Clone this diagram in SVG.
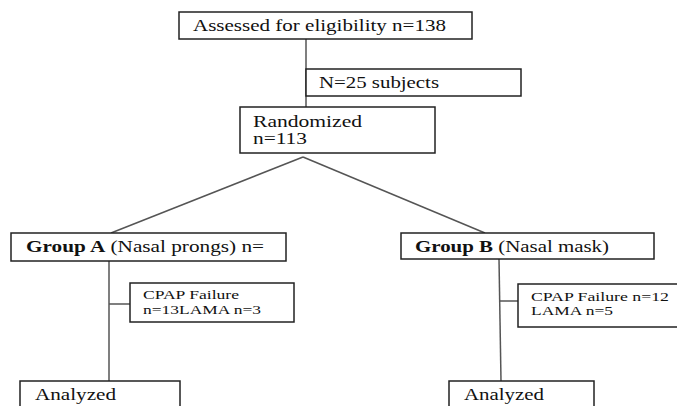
<svg xmlns="http://www.w3.org/2000/svg" width="677" height="406" viewBox="0 0 677 406">
<style>
.box{fill:#fff;stroke:#222;stroke-width:1.5}
.ln{stroke:#555;stroke-width:1.5;fill:none}
.t{font-size:16px}
.s{font-size:13.5px}
.b{font-weight:bold}
</style>
<rect width="677" height="406" fill="#fff"/>
<g id="connectors">
<line class="ln" x1="306" y1="39" x2="306" y2="115"/>
<line class="ln" x1="303" y1="157" x2="111" y2="233"/>
<line class="ln" x1="303" y1="157" x2="485" y2="233"/>
<line class="ln" x1="109" y1="261" x2="109" y2="382"/>
<line class="ln" x1="109" y1="304" x2="130" y2="304"/>
<line class="ln" x1="499" y1="259" x2="501" y2="381"/>
<line class="ln" x1="500" y1="301" x2="518" y2="301"/>
</g>
<g font-family="'Liberation Serif', 'Times New Roman', Tinos, serif" fill="#111">
<g id="assessed">
<rect class="box" x="179" y="12" width="293" height="27"/>
<text class="t" x="193" y="31" textLength="253" lengthAdjust="spacingAndGlyphs">Assessed for eligibility  n=138</text>
</g>
<g id="excluded">
<rect class="box" x="306" y="69" width="215" height="27"/>
<text class="t" x="319" y="88" textLength="120" lengthAdjust="spacingAndGlyphs">N=25 subjects</text>
</g>
<g id="randomized">
<rect class="box" x="240" y="107" width="195" height="46"/>
<text class="t" x="253" y="127" textLength="109" lengthAdjust="spacingAndGlyphs">Randomized</text>
<text class="t" x="253" y="144" textLength="54" lengthAdjust="spacingAndGlyphs">n=113</text>
</g>
<g id="groupA">
<rect class="box" x="11" y="233" width="275" height="28"/>
<text class="t" x="26" y="252" textLength="238" lengthAdjust="spacingAndGlyphs"><tspan class="b">Group A</tspan> (Nasal prongs) n=</text>
</g>
<g id="failA">
<rect class="box" x="130" y="283" width="164" height="39"/>
<text class="s" x="143" y="299" textLength="96" lengthAdjust="spacingAndGlyphs">CPAP Failure</text>
<text class="s" x="143" y="314" textLength="118" lengthAdjust="spacingAndGlyphs">n=13LAMA n=3</text>
</g>
<g id="analyzedA">
<rect class="box" x="20" y="381" width="160" height="40"/>
<text class="t" x="35" y="400" textLength="81" lengthAdjust="spacingAndGlyphs">Analyzed</text>
</g>
<g id="groupB">
<rect class="box" x="401" y="233" width="253" height="26"/>
<text class="t" x="415" y="252" textLength="194" lengthAdjust="spacingAndGlyphs"><tspan class="b">Group B</tspan> (Nasal mask)</text>
</g>
<g id="failB">
<rect class="box" x="518" y="284" width="175" height="43"/>
<text class="s" x="531" y="301" textLength="138" lengthAdjust="spacingAndGlyphs">CPAP Failure n=12</text>
<text class="s" x="531" y="315" textLength="82" lengthAdjust="spacingAndGlyphs">LAMA n=5</text>
</g>
<g id="analyzedB">
<rect class="box" x="449" y="381" width="145" height="40"/>
<text class="t" x="464" y="400" textLength="80" lengthAdjust="spacingAndGlyphs">Analyzed</text>
</g>
</g>
</svg>
